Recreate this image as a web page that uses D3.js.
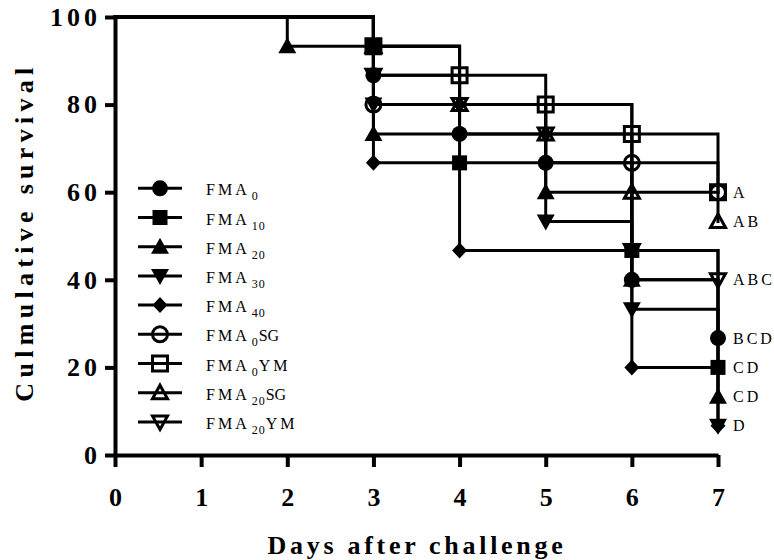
<!DOCTYPE html>
<html>
<head>
<meta charset="utf-8">
<script src="https://cdn.jsdelivr.net/npm/d3@7"></script>
<style>
  html, body { margin: 0; padding: 0; background: #fff; }
  svg { display: block; }
  svg text { font-family: "Liberation Serif", serif; }
</style>
</head>
<body>
<svg id="chart" width="774" height="560"></svg>
<script>
// ---------------- data ----------------
const dayTicks = [0, 1, 2, 3, 4, 5, 6, 7];
const survivalTicks = [0, 20, 40, 60, 80, 100];

const groupNames = ["FMA0", "FMA10", "FMA20", "FMA30", "FMA40", "FMA0SG", "FMA0YM", "FMA20SG", "FMA20YM"];
const groupSubscripts = ["0", "10", "20", "30", "40", "0", "0", "20", "20"];
const groupSuffixes = ["", "", "", "", "", "SG", "YM", "SG", "YM"];
const groupSymbols = ["circle", "square", "triangleUp", "triangleDown", "diamond",
                      "circleOpen", "squareOpen", "triangleUpOpen", "triangleDownOpen"];

// Kaplan-Meier step points (day, % survival)
const fma0Days = [0, 3, 4, 5, 6, 7];
const fma0Surv = [100, 86.7, 73.3, 66.7, 40, 26.7];
const fma10Days = [0, 3, 4, 6, 7];
const fma10Surv = [100, 93.3, 66.7, 46.7, 20];
const fma20Days = [0, 2, 3, 5, 6, 7];
const fma20Surv = [100, 93.3, 73.3, 60, 40, 13.3];
const fma30Days = [0, 3, 5, 6, 7];
const fma30Surv = [100, 80, 53.3, 33.3, 6.7];
const fma40Days = [0, 3, 4, 6, 7];
const fma40Surv = [100, 66.7, 46.7, 20, 6.7];
const fma0sgDays = [0, 3, 6, 7];
const fma0sgSurv = [100, 80, 66.7, 60];
const fma0ymDays = [0, 3, 4, 5, 6, 7];
const fma0ymSurv = [100, 93.3, 86.7, 80, 73.3, 60];
const fma20sgDays = [0, 3, 4, 5, 6, 7];
const fma20sgSurv = [100, 93.3, 80, 73.3, 60, 53.3];
const fma20ymDays = [0, 3, 4, 5, 6, 7];
const fma20ymSurv = [100, 86.7, 80, 73.3, 46.7, 40];

const seriesDays = [fma0Days, fma10Days, fma20Days, fma30Days, fma40Days, fma0sgDays, fma0ymDays, fma20sgDays, fma20ymDays];
const seriesSurv = [fma0Surv, fma10Surv, fma20Surv, fma30Surv, fma40Surv, fma0sgSurv, fma0ymSurv, fma20sgSurv, fma20ymSurv];

// significance letters at the end of the curves
const letterLabels = ["A", "AB", "ABC", "BCD", "CD", "CD", "D"];
const letterValues = [60, 53.3, 40, 26.7, 20, 13.3, 6.7];

// ---------------- drawing ----------------
const svg = d3.select("#chart");
svg.append("rect").attr("width", 774).attr("height", 560).attr("fill", "#fff");

const x = d3.scaleLinear().domain([0, 7]).range([115, 718]);
const y = d3.scaleLinear().domain([0, 100]).range([455, 17]);

const SERIF = "Liberation Serif";

function symbolPath(kind) {
  const circ = r => `M${r},0A${r},${r} 0 1,1 ${-r},0A${r},${r} 0 1,1 ${r},0Z`;
  switch (kind) {
    case "circle": return { d: circ(8), filled: true };
    case "square": return { d: "M-7.5,-7.5H7.5V7.5H-7.5Z", filled: true };
    case "triangleUp": return { d: "M0,-9L9,7L-9,7Z", filled: true };
    case "triangleDown": return { d: "M0,9L9,-7L-9,-7Z", filled: true };
    case "diamond": return { d: "M0,-8L7.5,0L0,8L-7.5,0Z", filled: true };
    case "circleOpen": return { d: circ(7.5), filled: false };
    case "squareOpen": return { d: "M-7.5,-7.5H7.5V7.5H-7.5Z", filled: false };
    case "triangleUpOpen": return { d: "M0,-7.5L7.5,6L-7.5,6Z", filled: false };
    case "triangleDownOpen": return { d: "M0,7.5L7.5,-6L-7.5,-6Z", filled: false };
  }
}

function drawSymbol(g, kind, cx, cy) {
  const s = symbolPath(kind);
  g.append("path")
    .attr("d", s.d)
    .attr("transform", `translate(${cx},${cy})`)
    .attr("fill", s.filled ? "#000" : "none")
    .attr("stroke", s.filled ? "none" : "#000")
    .attr("stroke-width", s.filled ? 0 : 3)
    .attr("stroke-linejoin", "miter");
}

// axes
const yAxis = d3.axisLeft(y).tickValues(survivalTicks).tickFormat(d3.format("d"))
  .tickSize(10).tickSizeOuter(0).tickPadding(4);
const yG = svg.append("g").attr("transform", "translate(115,0)").call(yAxis);
const xAxis = d3.axisBottom(x).tickValues(dayTicks).tickFormat(d3.format("d"))
  .tickSize(12).tickSizeOuter(0).tickPadding(21);
const xG = svg.append("g").attr("transform", "translate(0,455)").call(xAxis);

[yG, xG].forEach(g => {
  g.attr("font-family", SERIF);
  g.select(".domain").attr("stroke", "#000").attr("stroke-width", 4);
  g.selectAll(".tick line").attr("stroke", "#000").attr("stroke-width", 4);
  g.selectAll(".tick text")
    .attr("fill", "#000")
    .attr("font-family", SERIF)
    .attr("font-weight", "bold")
    .attr("font-size", 26);
});
yG.selectAll(".tick text").attr("letter-spacing", 4);

// axis titles
svg.append("text")
  .attr("x", 417).attr("y", 554)
  .attr("text-anchor", "middle")
  .attr("font-family", SERIF).attr("font-weight", "bold").attr("font-size", 26)
  .attr("letter-spacing", 3.7)
  .text("Days after challenge");

svg.append("text")
  .attr("transform", "translate(33,232) rotate(-90)")
  .attr("text-anchor", "middle")
  .attr("font-family", SERIF).attr("font-weight", "bold").attr("font-size", 26)
  .attr("letter-spacing", 5.3)
  .text("Culmulative survival");

// survival step lines
const stepLine = d3.line()
  .x(d => x(d[0]))
  .y(d => y(d[1]))
  .curve(d3.curveStepAfter);

const linesG = svg.append("g");
seriesDays.forEach((days, i) => {
  const pts = days.map((dd, j) => [dd, seriesSurv[i][j]]);
  linesG.append("path")
    .attr("d", stepLine(pts))
    .attr("fill", "none")
    .attr("stroke", "#000")
    .attr("stroke-width", 3)
    .attr("stroke-linecap", "square")
    .attr("stroke-linejoin", "miter");
});

// symbols at each event
const symG = svg.append("g");
seriesDays.forEach((days, i) => {
  days.forEach((dd, j) => {
    if (j === 0) return;
    drawSymbol(symG, groupSymbols[i], x(dd), y(seriesSurv[i][j]));
  });
});

// significance letters
letterLabels.forEach((lab, i) => {
  svg.append("text")
    .attr("x", x(7) + 15)
    .attr("y", y(letterValues[i]) + 5.5)
    .attr("font-family", SERIF).attr("font-size", 16)
    .attr("letter-spacing", 3)
    .attr("fill", "#000")
    .text(lab);
});

// legend
const legendG = svg.append("g");
groupNames.forEach((name, i) => {
  const ry = 188.3 + i * 29.2;
  legendG.append("line")
    .attr("x1", 138).attr("x2", 182)
    .attr("y1", ry).attr("y2", ry)
    .attr("stroke", "#000").attr("stroke-width", 3);
  drawSymbol(legendG, groupSymbols[i], 160, ry);
  const t = legendG.append("text")
    .attr("x", 206).attr("y", ry + 7)
    .attr("font-family", SERIF).attr("font-size", 16)
    .attr("fill", "#000");
  t.append("tspan").attr("letter-spacing", 3).text("FMA");
  t.append("tspan").attr("dx", 2).attr("dy", 5)
    .attr("font-size", 12).attr("letter-spacing", 1).text(groupSubscripts[i]);
  if (groupSuffixes[i]) {
    t.append("tspan").attr("dy", -5)
      .attr("font-size", 16)
      .attr("letter-spacing", groupSuffixes[i] === "YM" ? 3 : 0)
      .text(groupSuffixes[i]);
  }
});
</script>
</body>
</html>
